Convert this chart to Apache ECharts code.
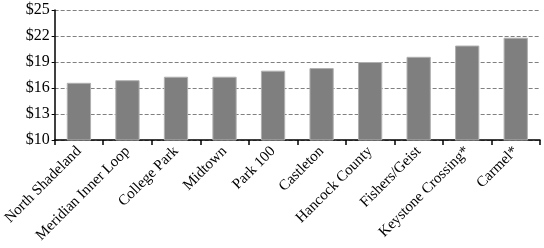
<!DOCTYPE html>
<html><head><meta charset="utf-8">
<script src="https://cdn.jsdelivr.net/npm/echarts@6/dist/echarts.min.js"></script>
<style>html,body{margin:0;padding:0;background:#fff}#c{width:544px;height:248px}</style>
</head><body><div id="c"></div>
<script>
var categories = ["North Shadeland","Meridian Inner Loop","College Park","Midtown","Park 100","Castleton","Hancock County","Fishers/Geist","Keystone Crossing*","Carmel*"];
var values = [16.6, 16.9, 17.3, 17.3, 18.0, 18.3, 19.0, 19.6, 20.9, 21.8];
var yMin = 10, yMax = 25, yStep = 3;
var font = "Liberation Serif";
var chart = echarts.init(document.getElementById('c'), null, {renderer:'canvas'});
chart.setOption({
  animation:false,
  grid:{left:53,right:4,top:10,bottom:108,containLabel:false},
  xAxis:{type:'category',data:categories,boundaryGap:true,
    axisLine:{lineStyle:{color:'#000',width:1.5}},
    axisTick:{show:true,alignWithLabel:false,length:5,lineStyle:{color:'#000',width:1.5}},
    axisLabel:{rotate:45,interval:0,fontFamily:font,fontSize:15,color:'#000',margin:9}},
  yAxis:{type:'value',min:yMin,max:yMax,interval:yStep,
    axisLine:{show:true,lineStyle:{color:'#000',width:1.5}},
    axisTick:{show:true,length:3,lineStyle:{color:'#000'}},
    axisLabel:{formatter:function(v){return '$'+v;},fontFamily:font,fontSize:16,color:'#000',margin:5},
    splitLine:{show:true,lineStyle:{color:'#808080',type:[4,2],width:1}}},
  series:[{type:'bar',data:values,barWidth:'50%',
    itemStyle:{color:'#7f7f7f',borderColor:'#b0b0b0',borderWidth:1}}]
});
</script></body></html>
